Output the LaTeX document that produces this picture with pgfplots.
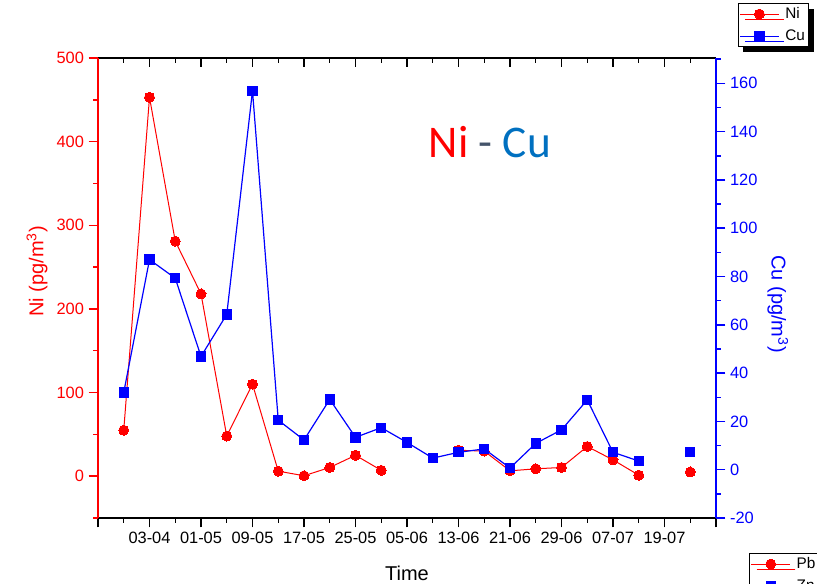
\documentclass[border=0pt]{standalone}
\usepackage{fontspec}
\setmainfont{Liberation Sans}
\newfontfamily\calibri{Carlito}
\usepackage{pgfplots}
\usepackage{pgfplotstable}
\pgfplotsset{compat=1.18}
\usetikzlibrary{shadows}
\definecolor{titleblue}{HTML}{0070C0}
\definecolor{dashgray}{HTML}{44546A}

\pgfplotstableread{
i ni cu
1 55 32
2 453 87
3 281 79.3
4 218 46.9
5 48 64.3
6 110 156.9
7 6 20.5
8 0.5 12.3
9 10.4 29.1
10 25 13.4
11 7 17.4
12 nan 11.3
13 nan 4.8
14 31 7.2
15 30 8.6
16 6.4 0.7
17 8.8 10.9
18 10.4 16.5
19 35.5 28.9
20 19.5 7.2
21 1.2 3.6
22 nan nan
23 5 7.2
}\datatable

\pgfplotsset{
  base/.style={
    scale only axis, width=463.5pt, height=345pt,
    at={(73.5pt,49.5pt)}, anchor=south west,
    xmin=0, xmax=24,
    major tick length=7pt, minor tick length=3.5pt,
    tick label style={font=\fontsize{12.3}{14}\selectfont},
    axis line style={line width=1.1pt},
    every tick/.append style={line width=1.1pt},
    unbounded coords=jump,
    legend cell align=left,
    legend style={font=\fontsize{11.5}{13}\selectfont, draw=black, line width=0.75pt,
      fill=white, anchor=north west, inner sep=1pt, row sep=3pt, column sep=2.5pt,
      nodes={inner sep=2pt},
      drop shadow={shadow xshift=4pt, shadow yshift=-4pt, fill=black, opacity=1}},
    legend image code/.code={\draw[mark repeat=2,mark phase=2] plot coordinates {(0pt,0pt)(14.5pt,0pt)(29pt,0pt)};},
  },
  nistyle/.style={red, line width=0.75pt, mark=*, mark size=3.75pt, mark options={solid, fill=red, draw=red, line width=0pt}},
  custyle/.style={blue, line width=0.9pt, mark=square*, mark size=3.5pt, mark options={solid, fill=blue, draw=blue, line width=0pt}},
}

\begin{document}
\begin{tikzpicture}
\path[use as bounding box] (0,0) rectangle (612.75pt,438pt);
\clip (0,0) rectangle (612.75pt,438pt);

% top axis line with inside ticks
\begin{axis}[base, ymin=0, ymax=1,
  axis x line*=top, axis y line=none,
  tick align=inside,
  xtick={0,2,...,24}, minor xtick={1,3,...,23}, xticklabels={},
  x axis line style={black}, xtick style={black}]
\end{axis}

% Ni axis (left)
\begin{axis}[base, ymin=-50, ymax=500,
  axis x line*=bottom, axis y line*=left,
  tick align=outside,
  xtick={0,2,...,24}, minor xtick={1,3,...,23},
  xticklabels={,03-04,01-05,09-05,17-05,25-05,05-06,13-06,21-06,29-06,07-07,19-07,},
  ytick={0,100,200,300,400,500}, yticklabels={0,100,200,300,400,500},
  minor ytick={-50,50,150,250,350,450},
  x axis line style={black}, xtick style={black},
  y axis line style={red}, ytick style={red},
  yticklabel style={red},
  xlabel={Time}, ylabel={Ni (pg/m\textsuperscript{3})},
  every axis x label/.style={at={(axis description cs:0.5,-0.1196)}, anchor=center, font=\fontsize{15}{18}\selectfont},
  every axis y label/.style={at={(axis description cs:-0.0987,0.536)}, rotate=90, anchor=center, red, font=\fontsize{15}{18}\selectfont},
  legend style={at={(axis description cs:1.035,1.1196)}}]
\addplot[nistyle] table[x=i, y=ni] {\datatable};
\addlegendentry{Ni}
\addlegendimage{custyle}
\addlegendentry{Cu}
\node[font=\calibri\fontsize{34}{40}\selectfont, anchor=center] at (axis description cs:0.634,0.817)
  {\textcolor{red}{Ni} \textcolor{dashgray}{-} \textcolor{titleblue}{Cu}};
\end{axis}

% Cu axis (right)
\begin{axis}[base, ymin=-20, ymax=170.5,
  axis x line=none, axis y line*=right,
  tick align=outside,
  ytick={-20,0,20,40,60,80,100,120,140,160},
  yticklabels={-20,0,20,40,60,80,100,120,140,160},
  minor ytick={-10,10,30,50,70,90,110,130,150,170},
  y axis line style={blue}, ytick style={blue},
  yticklabel style={blue},
  ylabel={Cu (pg/m\textsuperscript{3})},
  every axis y label/.style={at={(axis description cs:1.100,0.465)}, rotate=-90, anchor=center, blue, font=\fontsize{15}{18}\selectfont},
  legend style={at={(axis description cs:1.0534,-0.0761)}}]
\addplot[custyle, forget plot] table[x=i, y=cu] {\datatable};
\addlegendimage{nistyle}
\addlegendentry{Pb}
\addlegendimage{custyle}
\addlegendentry{Zn}
\end{axis}
\end{tikzpicture}
\end{document}
